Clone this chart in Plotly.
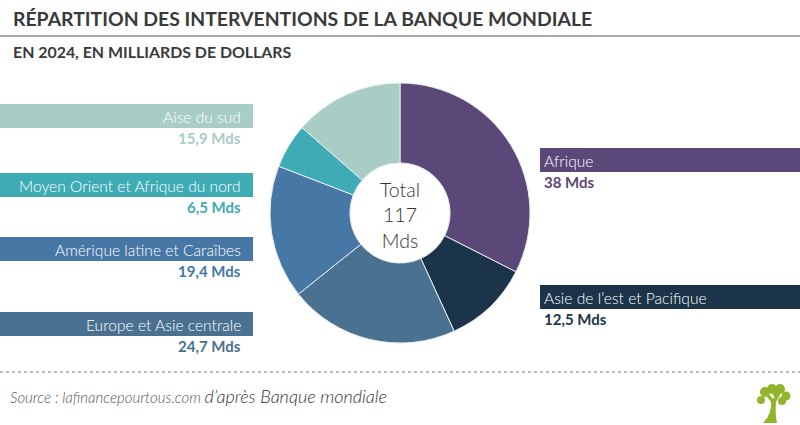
import plotly.graph_objects as go

# ---- data ----
regions = ["Afrique", "Asie de l\u2019est et Pacifique", "Europe et Asie centrale",
           "Amérique latine et Caraïbes", "Moyen Orient et Afrique du nord", "Aise du sud"]
values = [38, 12.5, 24.7, 19.4, 6.5, 15.9]
value_labels = ["38 Mds", "12,5 Mds", "24,7 Mds", "19,4 Mds", "6,5 Mds", "15,9 Mds"]
colors = ["#5a4878", "#1b3449", "#4a718f", "#4677a5", "#3eabb5", "#a8cdc5"]

W, H = 800, 425
def px(x): return x / W
def py(y): return 1 - y / H

FONT = "Lato"
TXT = "#3a3a3a"

fig = go.Figure()
cx, cy, R = 400, 213, 130
fig.add_trace(go.Pie(
    labels=regions, values=values, sort=False, direction="clockwise", rotation=0,
    hole=0.385, marker=dict(colors=colors, line=dict(color="#e8eef0", width=1)),
    textinfo="none", hoverinfo="label+value", showlegend=False,
    domain=dict(x=[px(cx - R), px(cx + R)], y=[py(cy + R), py(cy - R)]),
))

total = sum(values)
total_txt = f"{total:.0f}"

shapes = []
annotations = []

# title / subtitle
annotations.append(dict(x=px(11), y=py(18), xref="paper", yref="paper", xanchor="left", yanchor="middle",
                        text="<b>RÉPARTITION DES INTERVENTIONS DE LA BANQUE MONDIALE</b>", showarrow=False,
                        font=dict(family=FONT, size=19.4, color=TXT)))
shapes.append(dict(type="line", xref="paper", yref="paper", x0=0, x1=1, y0=py(36), y1=py(36),
                   line=dict(color="#555555", width=1)))
annotations.append(dict(x=px(11), y=py(52), xref="paper", yref="paper", xanchor="left", yanchor="middle",
                        text="<b>EN 2024, EN MILLIARDS DE DOLLARS</b>", showarrow=False,
                        font=dict(family=FONT, size=15.9, color=TXT)))

# centre text
annotations.append(dict(x=px(cx), y=py(215), xref="paper", yref="paper", xanchor="center", yanchor="middle",
                        text=f"Total<br>{total_txt}<br>Mds", showarrow=False,
                        font=dict(family=FONT, size=19.5, color="#333333", weight=300)))

# label bars: (index, side, bar top y)
label_pos = [(0, "right", 148), (1, "right", 285), (2, "left", 312),
             (3, "left", 237), (4, "left", 173), (5, "left", 104)]
for i, side, top in label_pos:
    bh = 24
    if side == "left":
        x0, x1 = 0, 253
        tx, anchor = 243, "right"
    else:
        x0, x1 = 540, 800
        tx, anchor = 542, "left"
    shapes.append(dict(type="rect", xref="paper", yref="paper", x0=px(x0), x1=px(x1),
                       y0=py(top + bh), y1=py(top), fillcolor=colors[i], line=dict(width=0), layer="below"))
    annotations.append(dict(x=px(tx), y=py(top + bh / 2 + 1), xref="paper", yref="paper", xanchor=anchor,
                            yanchor="middle", text=regions[i], showarrow=False,
                            font=dict(family=FONT, size=15.6, color="white", weight=300)))
    annotations.append(dict(x=px(tx), y=py(top + bh + 10), xref="paper", yref="paper", xanchor=anchor,
                            yanchor="middle", text=f"<b>{value_labels[i]}</b>", showarrow=False,
                            font=dict(family=FONT, size=15, color=colors[i])))

# footer
shapes.append(dict(type="line", xref="paper", yref="paper", x0=0, x1=1, y0=py(372), y1=py(372),
                   line=dict(color="#777777", width=1, dash="dot")))
annotations.append(dict(x=px(8), y=py(396), xref="paper", yref="paper", xanchor="left", yanchor="middle",
                        text="<i><span style='font-size:15px;color:#555'>Source : lafinancepourtous.com</span> "
                             "<span style='font-size:18px;color:#333'>d\u2019après Banque mondiale</span></i>",
                        showarrow=False, font=dict(family=FONT, size=14, color="#333", weight=300)))

# small tree logo
G = "#92b52b"
shapes.append(dict(type="path", xref="paper", yref="paper",
                   path=f"M {px(763)},{py(423)} Q {px(772)},{py(414)} {px(771)},{py(402)} L {px(765)},{py(394)} "
                        f"L {px(767)},{py(392)} L {px(773)},{py(399)} L {px(779)},{py(391)} L {px(781)},{py(393)} "
                        f"L {px(776)},{py(402)} Q {px(775)},{py(414)} {px(777)},{py(423)} Z",
                   fillcolor=G, line=dict(width=0)))
for (bx, by, r) in [(765, 392, 5), (772, 389, 5), (780, 389, 5), (786, 396, 4.5), (782, 401, 4), (761, 400, 4), (776, 394, 3)]:
    shapes.append(dict(type="circle", xref="paper", yref="paper", x0=px(bx - r), x1=px(bx + r),
                       y0=py(by + r), y1=py(by - r), fillcolor=G, line=dict(width=0)))

fig.update_layout(width=W, height=H, margin=dict(l=0, r=0, t=0, b=0),
                  paper_bgcolor="white", plot_bgcolor="white",
                  shapes=shapes, annotations=annotations)
fig.write_html("out.html", config={"displayModeBar": False},
               post_script="document.body.style.margin='0';")
